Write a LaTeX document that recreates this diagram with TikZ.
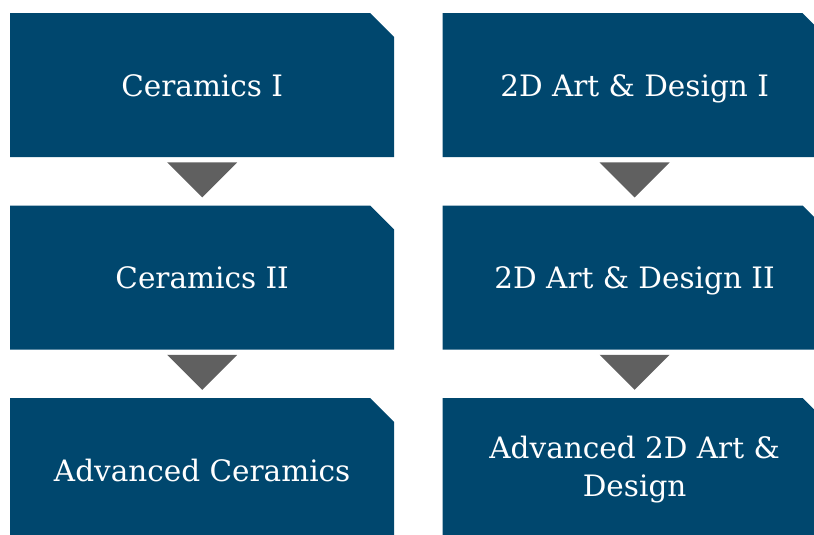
\documentclass[tikz,border=0pt]{standalone}
\usepackage{fontspec}
\setmainfont{DejaVu Serif}
\usetikzlibrary{positioning}

\definecolor{boxblue}{RGB}{0,71,110}
\definecolor{arrowgray}{RGB}{96,96,96}

\begin{document}
\begin{tikzpicture}[
            x = 1pt, y = 1pt,
            node distance = 48pt, % gap between boxes
            course/.style = {rectangle, draw = none, inner sep = 0pt, text = white,
                minimum width = 384pt, minimum height = 144pt,
                align = center, font = \fontsize{29.5}{38}\selectfont,
                % box with its top right corner cut off
                path picture = {\fill[boxblue] (path picture bounding box.south west)
                    -- (path picture bounding box.north west)
                    -- ([xshift=-24pt]path picture bounding box.north east)
                    -- ([yshift=-24pt]path picture bounding box.north east)
                    -- (path picture bounding box.south east) -- cycle;}},
            oneline/.style = {text height = 27pt, text depth = 5pt},
            pointer/.style = {fill = arrowgray}
        ]

	\useasboundingbox (0,0) rectangle (814,-535);
	\clip (0,0) rectangle (814,-535);

	% left column
	\node[course, oneline, anchor = north west] (C1) at (10,-13) {Ceramics I};
	\node[course, oneline] (C2) [below=of C1] {Ceramics II};
	\node[course, oneline] (C3) [below=of C2] {Advanced Ceramics};

	% right column
	\node[course, oneline] (D1) [right=of C1] {2D Art \& Design I};
	\node[course, oneline] (D2) [below=of D1] {2D Art \& Design II};
	\node[course] (D3) [below=of D2] {Advanced 2D Art \&\\Design};

	% arrows between boxes
	\foreach \a/\b in {C1/C2, C2/C3, D1/D2, D2/D3}
		\fill[pointer] ([shift={(-35,-5)}]\a.south) -- ([shift={(35,-5)}]\a.south) -- ([yshift=8]\b.north) -- cycle;

\end{tikzpicture}
\end{document}
